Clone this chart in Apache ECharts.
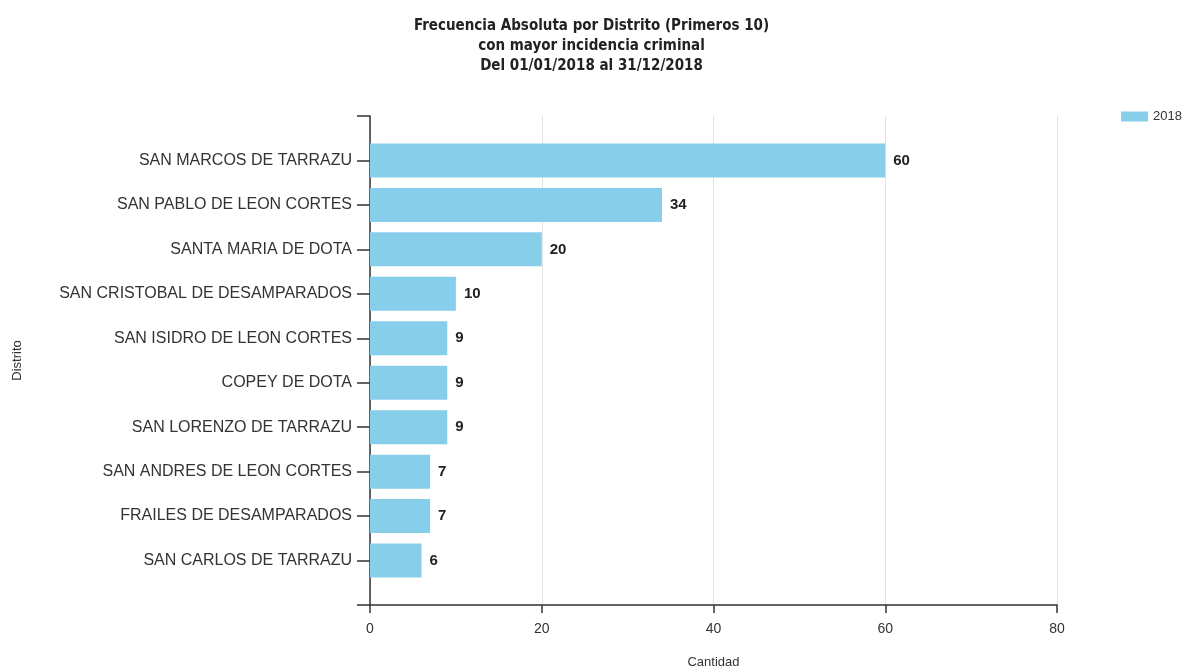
<!DOCTYPE html>
<html>
<head>
<meta charset="utf-8">
<script src="https://cdn.jsdelivr.net/npm/echarts@6/dist/echarts.min.js"></script>
<style>html,body{margin:0;padding:0;background:#fff}#c{width:1183px;height:669px}</style>
</head>
<body>
<div id="c"></div>
<script>
const titleLines = ['Frecuencia Absoluta por Distrito (Primeros 10)', 'con mayor incidencia criminal', 'Del 01/01/2018 al 31/12/2018'];
const districts = ['SAN MARCOS DE TARRAZU','SAN PABLO DE LEON CORTES','SANTA MARIA DE DOTA','SAN CRISTOBAL DE DESAMPARADOS','SAN ISIDRO DE LEON CORTES','COPEY DE DOTA','SAN LORENZO DE TARRAZU','SAN ANDRES DE LEON CORTES','FRAILES DE DESAMPARADOS','SAN CARLOS DE TARRAZU'];
const counts2018 = [60, 34, 20, 10, 9, 9, 9, 7, 7, 6];
const seriesName = '2018';
const xTicks = [0, 20, 40, 60, 80];

// pad with empty categories at both ends so the axis spans like the original
const cats = [''].concat(districts, ['']);
const vals = ['-'].concat(counts2018, ['-']);

const narrow = "'Liberation Sans Narrow','Arial Narrow','DejaVu Sans Condensed',sans-serif";
const sans = "'Liberation Sans', Arial, sans-serif";
const chart = echarts.init(document.getElementById('c'), null, {renderer: 'canvas'});
chart.setOption({
  animation: false,
  title: {
    text: titleLines.join('\n'),
    left: 'center', top: 11,
    textStyle: {fontFamily: narrow, fontSize: 15, fontWeight: 'bold', color: '#222', lineHeight: 20}
  },
  legend: {
    right: 1, top: 110, padding: 0,
    icon: 'rect',
    itemWidth: 27, itemHeight: 10, itemGap: 5,
    textStyle: {fontFamily: sans, fontSize: 13, color: '#333'},
    data: [seriesName]
  },
  grid: {left: 370, top: 116, right: 126, bottom: 64, containLabel: false, outerBoundsMode: 'none'},
  xAxis: {
    type: 'value', min: xTicks[0], max: xTicks[xTicks.length - 1], interval: 20,
    name: 'Cantidad', nameLocation: 'middle', nameGap: 51,
    nameTextStyle: {fontFamily: sans, fontSize: 13, color: '#333'},
    axisLine: {show: true, lineStyle: {color: '#333', width: 1.5}},
    axisTick: {show: true, length: 8, lineStyle: {color: '#333', width: 1.5}},
    axisLabel: {fontFamily: sans, fontSize: 14, color: '#333', margin: 17},
    splitLine: {show: true, lineStyle: {color: '#e3e3e3', width: 1}}
  },
  yAxis: {
    type: 'category', data: cats, inverse: true, boundaryGap: false,
    name: 'Distrito', nameLocation: 'middle', nameGap: 346, nameRotate: 90,
    nameTextStyle: {fontFamily: sans, fontSize: 13, color: '#333'},
    axisLine: {show: true, lineStyle: {color: '#333', width: 1.5}},
    axisTick: {show: true, length: 13, lineStyle: {color: '#333', width: 1.5}},
    axisLabel: {fontFamily: sans, fontSize: 16, color: '#333', margin: 18},
    splitLine: {show: false}
  },
  series: [{
    name: seriesName, type: 'bar', data: vals, barWidth: 34,
    itemStyle: {color: '#87CEEB'},
    label: {show: true, position: 'right', distance: 8, fontFamily: sans, fontSize: 15, fontWeight: 'bold', color: '#222'}
  }]
});
</script>
</body>
</html>
